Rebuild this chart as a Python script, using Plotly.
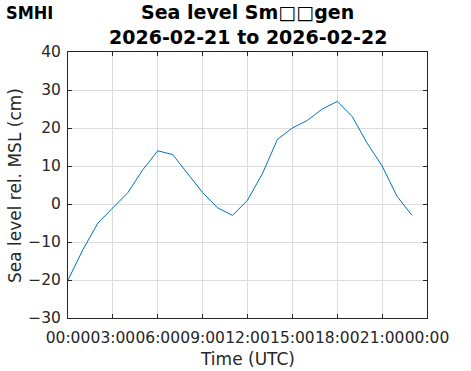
import plotly.graph_objects as go
import pandas as pd

# Data (hourly sea level, cm rel. MSL)
times = pd.date_range("2026-02-21 00:00", periods=24, freq="h")
sea_level = [-20, -12, -5, -1, 3, 9, 14, 13, 8, 3, -1, -3, 1, 8, 17, 20, 22, 25, 27, 23, 16, 10, 2, -3]
x_tickvals = pd.date_range("2026-02-21 00:00", periods=9, freq="3h")
x_ticktext = ["00:00", "03:00", "06:00", "09:00", "12:00", "15:00", "18:00", "21:00", "00:00"]
y_tickvals = [-30, -20, -10, 0, 10, 20, 30, 40]

title_line1 = "<b>Sea level Sm□□gen</b>"
title_line2 = "<b>2026-02-21 to 2026-02-22</b>"
x_title = "Time (UTC)"
y_title = "Sea level rel. MSL (cm)"
logo = "<b>SMHI</b>"

fig = go.Figure()
fig.add_trace(go.Scatter(x=times, y=sea_level, mode="lines",
                         line=dict(color="#0072BD", width=1), showlegend=False))

axis_common = dict(
    showline=True, linecolor="#262626", linewidth=1, mirror="allticks",
    ticks="inside", ticklen=4, tickcolor="#262626", tickwidth=1,
    showgrid=True, gridcolor="#dcdcdc", gridwidth=1, zeroline=False,
    automargin=False, tickangle=0,
    tickfont=dict(family="DejaVu Sans", size=15.5, color="#262626"),
)

fig.update_layout(
    width=471, height=371,
    margin=dict(l=68, r=44, t=52, b=53),
    paper_bgcolor="white", plot_bgcolor="white",
    xaxis=dict(range=[x_tickvals[0], x_tickvals[-1]], tickvals=x_tickvals, ticktext=x_ticktext,
               ticklabelstandoff=5, **axis_common),
    yaxis=dict(range=[-30, 40], tickvals=y_tickvals, ticklabelstandoff=3, **axis_common),
)

ann_font = dict(family="DejaVu Sans", color="#262626")
fig.add_annotation(text=title_line1, xref="paper", yref="paper", x=0.5, y=1.1485,
                   xanchor="center", yanchor="middle", showarrow=False,
                   font=dict(family="DejaVu Sans", size=19, color="black"))
fig.add_annotation(text=title_line2, xref="paper", yref="paper", x=0.5, y=1.0564,
                   xanchor="center", yanchor="middle", showarrow=False,
                   font=dict(family="DejaVu Sans", size=19, color="black"))
fig.add_annotation(text=x_title, xref="paper", yref="paper", x=0.5, y=-0.156,
                   xanchor="center", yanchor="middle", showarrow=False,
                   font=dict(size=17, **ann_font))
fig.add_annotation(text=y_title, xref="paper", yref="paper", x=-0.1476, y=0.496,
                   xanchor="center", yanchor="middle", showarrow=False, textangle=-90,
                   font=dict(size=17, **ann_font))
fig.add_annotation(text=logo, xref="paper", yref="paper", x=-0.178, y=1.1485,
                   xanchor="left", yanchor="middle", showarrow=False,
                   font=dict(family="DejaVu Sans Condensed", size=18, color="black"))

fig.write_html("out.html", config={"displayModeBar": False},
               post_script="document.body.style.margin='0';")
